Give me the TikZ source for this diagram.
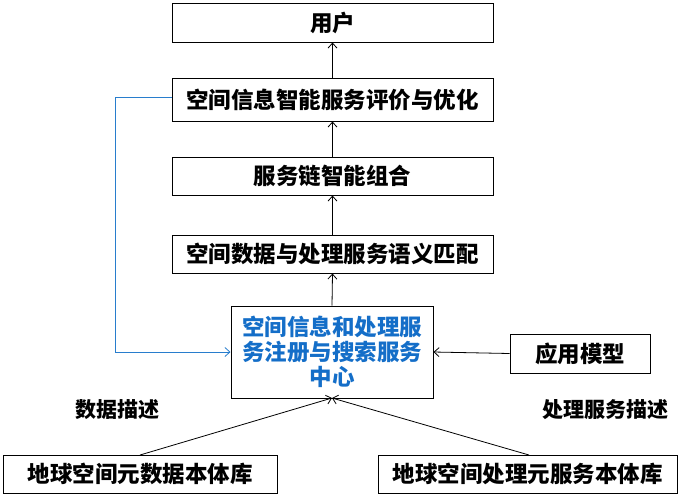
\documentclass[tikz,border=0pt]{standalone}
\usepackage{fontspec}
\setmainfont{Noto Sans CJK SC}
\usetikzlibrary{arrows.meta}
\definecolor{bluetxt}{RGB}{20,110,200}
\definecolor{blueline}{RGB}{40,125,205}
\tikzset{
  box/.style={draw=black, line width=1pt, rectangle, inner sep=0pt, align=center, font=\fontsize{22.5}{25}\selectfont\bfseries},
  arr/.style={line width=0.8pt, -{Straight Barb[length=5pt,width=9pt]}},
  lbl/.style={font=\fontsize{21}{24}\selectfont\bfseries},
}
\begin{document}
\begin{tikzpicture}[x=1pt,y=-1pt]
\useasboundingbox (0,0) rectangle (680,496);
\node[box, minimum width=321pt, minimum height=39pt] (user) at (332.5,22.5) {用户};
\node[box, minimum width=321pt, minimum height=43pt] (eval) at (332.5,99.5) {空间信息智能服务评价与优化};
\node[box, minimum width=321pt, minimum height=38pt] (chain) at (332.5,176) {服务链智能组合};
\node[box, minimum width=321pt, minimum height=38pt] (match) at (332.5,254) {空间数据与处理服务语义匹配};
\node[box, minimum width=202pt, minimum height=92pt, text=bluetxt] (center) at (332,352) {空间信息和处理服\\务注册与搜索服务\\中心};
\node[box, minimum width=140pt, minimum height=39pt] (app) at (580,353.5) {应用模型};
\node[box, minimum width=274pt, minimum height=38pt] (bl) at (140,474) {地球空间元数据本体库};
\node[box, minimum width=299pt, minimum height=38pt] (br) at (527.5,474) {地球空间处理元服务本体库};
\node[lbl] (ld) at (117,410) {数据描述};
\node[lbl] (lp) at (605,410) {处理服务描述};
\coordinate (c1) at (115,97);
\coordinate (c2) at (115,352);
\coordinate (tipc) at (332,398);
\coordinate (sbl) at (140,455);
\coordinate (sbr) at (529,455);
\draw[arr] (center.north) -- (match.south);
\draw[arr] (match.north) -- (chain.south);
\draw[arr] (chain.north) -- (eval.south);
\draw[arr] (eval.north) -- (user.south);
\draw[arr] (app.west) -- (center.east);
\draw[arr] (sbl) -- (tipc);
\draw[arr] (sbr) -- (tipc);
\draw[arr, draw=blueline] (eval.west |- c1) -- (c1) -- (c2) -- (center.west |- c2);
\end{tikzpicture}
\end{document}
